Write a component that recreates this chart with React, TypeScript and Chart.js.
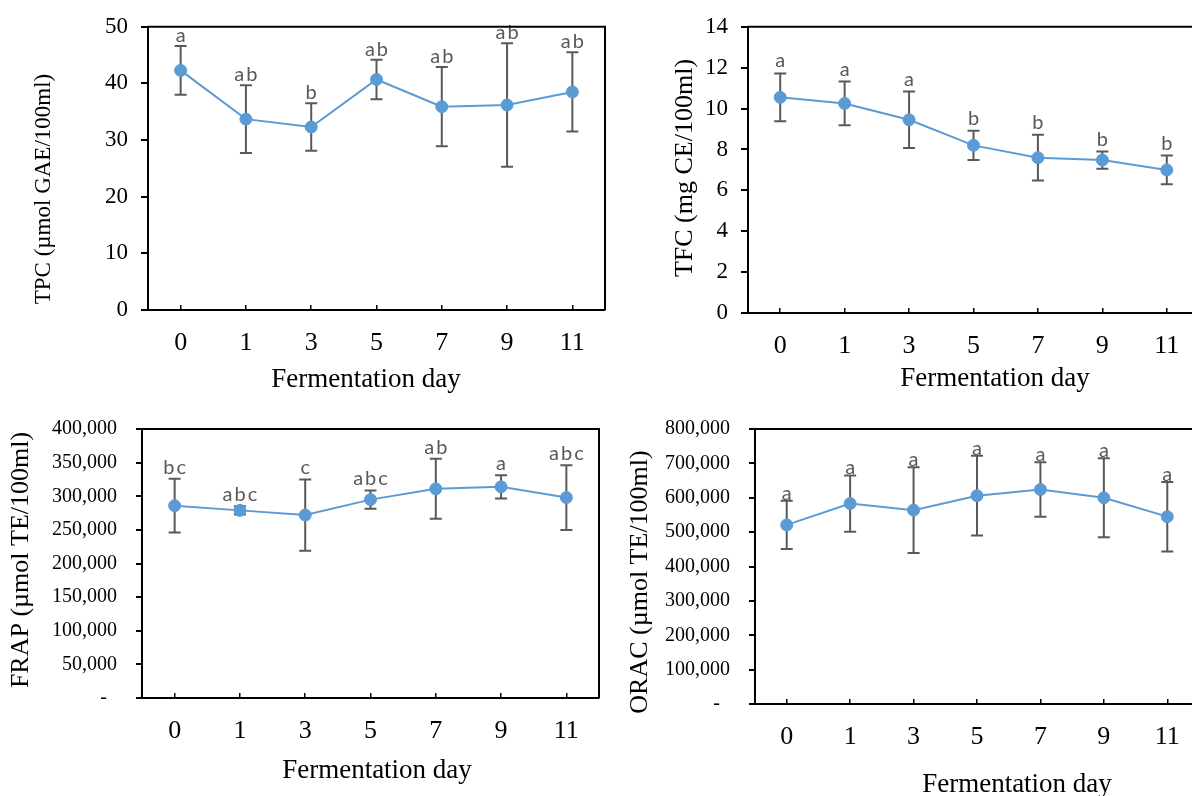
import React, { useEffect, useRef } from "react";
import { Chart, registerables } from "chart.js";

Chart.register(...registerables);

// ---------------- data ----------------
const days = ["0", "1", "3", "5", "7", "9", "11"];

const tpcMean = [42.3, 33.7, 32.3, 40.7, 35.9, 36.2, 38.5];
const tpcSd = [4.3, 6.0, 4.2, 3.5, 7.0, 10.9, 7.0];
const tpcLetters = ["a", "ab", "b", "ab", "ab", "ab", "ab"];

const tfcMean = [10.55, 10.25, 9.45, 8.2, 7.6, 7.48, 7.0];
const tfcSd = [1.17, 1.07, 1.38, 0.72, 1.12, 0.42, 0.7];
const tfcLetters = ["a", "a", "a", "b", "b", "b", "b"];

const frapMean = [286000, 279000, 272000, 295000, 311000, 314000, 298000];
const frapSd = [40000, 6000, 53000, 13700, 44600, 17300, 48000];
const frapLetters = ["bc", "abc", "c", "abc", "ab", "a", "abc"];

const oracMean = [521000, 583000, 564000, 606000, 624000, 600000, 545000];
const oracSd = [70000, 82000, 125000, 116000, 79000, 115000, 101000];
const oracLetters = ["a", "a", "a", "a", "a", "a", "a"];

const xTitleText = "Fermentation day";
const tpcTitle = "TPC (µmol GAE/100ml)";
const tfcTitle = "TFC (mg CE/100ml)";
const frapTitle = "FRAP (µmol TE/100ml)";
const oracTitle = "ORAC (µmol TE/100ml)";

// ---------------- styles ----------------
const SERIF = "'Liberation Serif', 'Times New Roman', serif";
const SANS = "Lato, 'Noto Sans', sans-serif";
const BLUE = "#5B9BD5";
const GREY = "#595959";

function plainTick(v: number): string {
  return String(v);
}
function commaTick(v: number): string {
  if (v === 0) return "-  ";
  return String(Math.round(v)).replace(/\B(?=(\d{3})+(?!\d))/g, ",");
}

type Box = { left: number; top: number; w: number; h: number };
type Area = { left: number; top: number; right: number; bottom: number };
type PanelCfg = {
  id: string;
  canvas: Box;
  area: Area;
  mean: number[];
  sd: number[];
  letters: string[];
  yMin: number;
  yMax: number;
  yStep: number;
  yFmt: (v: number) => string;
  yTickSize: number;
  yTickLen: number;
  yTickPad: number;
  letterGap: number;
  yTitle: { text: string; x: number; y: number; size: number };
  xTitle: { text: string; x: number; y: number; size: number };
};

const panels: PanelCfg[] = [
  {
    id: "tpc",
    canvas: { left: 0, top: 0, w: 615, h: 398 },
    area: { left: 148, top: 22, right: 605, bottom: 310 },
    mean: tpcMean,
    sd: tpcSd,
    letters: tpcLetters,
    yMin: 0,
    yMax: 50,
    yStep: 10,
    yFmt: plainTick,
    yTickSize: 23,
    yTickLen: 7,
    yTickPad: 13,
    letterGap: 4,
    yTitle: { text: tpcTitle, x: 50, y: 189, size: 23 },
    xTitle: { text: xTitleText, x: 366, y: 387, size: 27 },
  },
  {
    id: "tfc",
    canvas: { left: 615, top: 0, w: 600, h: 398 },
    area: { left: 748, top: 22, right: 1199, bottom: 313 },
    mean: tfcMean,
    sd: tfcSd,
    letters: tfcLetters,
    yMin: 0,
    yMax: 14,
    yStep: 2,
    yFmt: plainTick,
    yTickSize: 23,
    yTickLen: 7,
    yTickPad: 13,
    letterGap: 6,
    yTitle: { text: tfcTitle, x: 692, y: 168, size: 26 },
    xTitle: { text: xTitleText, x: 995, y: 386, size: 27 },
  },
  {
    id: "frap",
    canvas: { left: 0, top: 398, w: 615, h: 398 },
    area: { left: 142, top: 425, right: 599, bottom: 698 },
    mean: frapMean,
    sd: frapSd,
    letters: frapLetters,
    yMin: 0,
    yMax: 400000,
    yStep: 50000,
    yFmt: commaTick,
    yTickSize: 20,
    yTickLen: 6,
    yTickPad: 19,
    letterGap: 5,
    yTitle: { text: frapTitle, x: 28, y: 560, size: 26 },
    xTitle: { text: xTitleText, x: 377, y: 778, size: 27 },
  },
  {
    id: "orac",
    canvas: { left: 615, top: 398, w: 600, h: 398 },
    area: { left: 755, top: 425, right: 1199, bottom: 704 },
    mean: oracMean,
    sd: oracSd,
    letters: oracLetters,
    yMin: 0,
    yMax: 800000,
    yStep: 100000,
    yFmt: commaTick,
    yTickSize: 20,
    yTickLen: 6,
    yTickPad: 19,
    letterGap: 1,
    yTitle: { text: oracTitle, x: 647, y: 582, size: 26 },
    xTitle: { text: xTitleText, x: 1017, y: 792, size: 27 },
  },
];

function makeDecor(p: PanelCfg) {
  return {
    id: "decor_" + p.id,
    beforeDatasetsDraw(chart: any) {
      const ctx = chart.ctx;
      const ys = chart.scales.y;
      const meta = chart.getDatasetMeta(0);
      ctx.save();
      ctx.strokeStyle = GREY;
      ctx.lineWidth = 2;
      meta.data.forEach((pt: any, i: number) => {
        const x = pt.x;
        const top = ys.getPixelForValue(p.mean[i] + p.sd[i]);
        const bot = ys.getPixelForValue(p.mean[i] - p.sd[i]);
        ctx.beginPath();
        ctx.moveTo(x, top);
        ctx.lineTo(x, bot);
        ctx.moveTo(x - 6, top);
        ctx.lineTo(x + 6, top);
        ctx.moveTo(x - 6, bot);
        ctx.lineTo(x + 6, bot);
        ctx.stroke();
      });
      ctx.restore();
    },
    afterDatasetsDraw(chart: any) {
      const ctx = chart.ctx;
      const ys = chart.scales.y;
      const meta = chart.getDatasetMeta(0);
      ctx.save();
      ctx.fillStyle = GREY;
      ctx.font = `20px ${SANS}`;
      (ctx as any).letterSpacing = "2px";
      ctx.textAlign = "center";
      ctx.textBaseline = "alphabetic";
      meta.data.forEach((pt: any, i: number) => {
        const top = ys.getPixelForValue(p.mean[i] + p.sd[i]);
        ctx.fillText(p.letters[i], pt.x + 1, top - p.letterGap);
      });
      ctx.restore();
    },
    afterDraw(chart: any) {
      const ctx = chart.ctx;
      const a = chart.chartArea;
      ctx.save();
      // frame (top & right)
      ctx.strokeStyle = "#000";
      ctx.lineWidth = 2;
      ctx.beginPath();
      ctx.moveTo(a.left, a.top);
      ctx.lineTo(a.right, a.top);
      ctx.lineTo(a.right, a.bottom);
      ctx.stroke();
      // titles
      ctx.fillStyle = "#000";
      ctx.textAlign = "center";
      ctx.textBaseline = "alphabetic";
      ctx.font = `${p.xTitle.size}px ${SERIF}`;
      ctx.fillText(p.xTitle.text, p.xTitle.x - p.canvas.left, p.xTitle.y - p.canvas.top);
      ctx.font = `${p.yTitle.size}px ${SERIF}`;
      ctx.translate(p.yTitle.x - p.canvas.left, p.yTitle.y - p.canvas.top);
      ctx.rotate(-Math.PI / 2);
      ctx.fillText(p.yTitle.text, 0, 0);
      ctx.restore();
    },
  };
}

function PanelChart({ p }: { p: PanelCfg }) {
  const ref = useRef<HTMLCanvasElement>(null);
  useEffect(() => {
    const canvas = ref.current;
    if (!canvas) return;
    const yWidth = p.area.left - p.canvas.left;
    const xHeight = p.canvas.top + p.canvas.h - p.area.bottom;
    const chart = new Chart(canvas, {
      type: "line",
      data: {
        labels: days,
        datasets: [
          {
            data: p.mean,
            borderColor: BLUE,
            backgroundColor: BLUE,
            borderWidth: 2,
            pointRadius: 6,
            pointBackgroundColor: BLUE,
            pointBorderColor: BLUE,
            pointBorderWidth: 1,
            tension: 0,
            fill: false,
          },
        ],
      },
      options: {
        responsive: false,
        animation: false,
        devicePixelRatio: 1,
        layout: {
          padding: {
            left: 0,
            top: p.area.top - p.canvas.top,
            right: p.canvas.left + p.canvas.w - p.area.right,
            bottom: 0,
          },
        },
        plugins: {
          legend: { display: false },
          tooltip: { enabled: false },
          title: { display: false },
        },
        scales: {
          x: {
            type: "category",
            offset: true,
            grid: {
              display: true,
              drawOnChartArea: false,
              drawTicks: true,
              tickLength: -5,
              color: "#000",
              tickColor: "#000",
              lineWidth: 1.5,
              offset: false,
            },
            border: { display: true, color: "#000", width: 2 },
            ticks: {
              color: "#000",
              font: { family: SERIF, size: 26 },
              padding: 23,
              maxRotation: 0,
              autoSkip: false,
            },
            afterFit: (s: any) => {
              s.height = xHeight;
            },
          },
          y: {
            type: "linear",
            min: p.yMin,
            max: p.yMax,
            grid: {
              display: true,
              drawOnChartArea: false,
              drawTicks: true,
              tickLength: p.yTickLen,
              color: "#000",
              tickColor: "#000",
              lineWidth: 2,
            },
            border: { display: true, color: "#000", width: 2 },
            ticks: {
              stepSize: p.yStep,
              color: "#000",
              font: { family: SERIF, size: p.yTickSize },
              padding: p.yTickPad,
              callback: (v: any) => p.yFmt(Number(v)),
            },
            afterFit: (s: any) => {
              s.width = yWidth;
            },
          },
        },
      },
      plugins: [makeDecor(p)],
    } as any);
    return () => chart.destroy();
  }, [p]);
  return (
    <canvas
      ref={ref}
      width={p.canvas.w}
      height={p.canvas.h}
      style={{
        position: "absolute",
        left: p.canvas.left,
        top: p.canvas.top,
        width: p.canvas.w,
        height: p.canvas.h,
      }}
    />
  );
}

export default function App() {
  return (
    <div
      style={{
        position: "fixed",
        left: 0,
        top: 0,
        width: 1192,
        height: 796,
        overflow: "hidden",
        background: "#fff",
      }}
    >
      {panels.map((p) => (
        <PanelChart key={p.id} p={p} />
      ))}
    </div>
  );
}
